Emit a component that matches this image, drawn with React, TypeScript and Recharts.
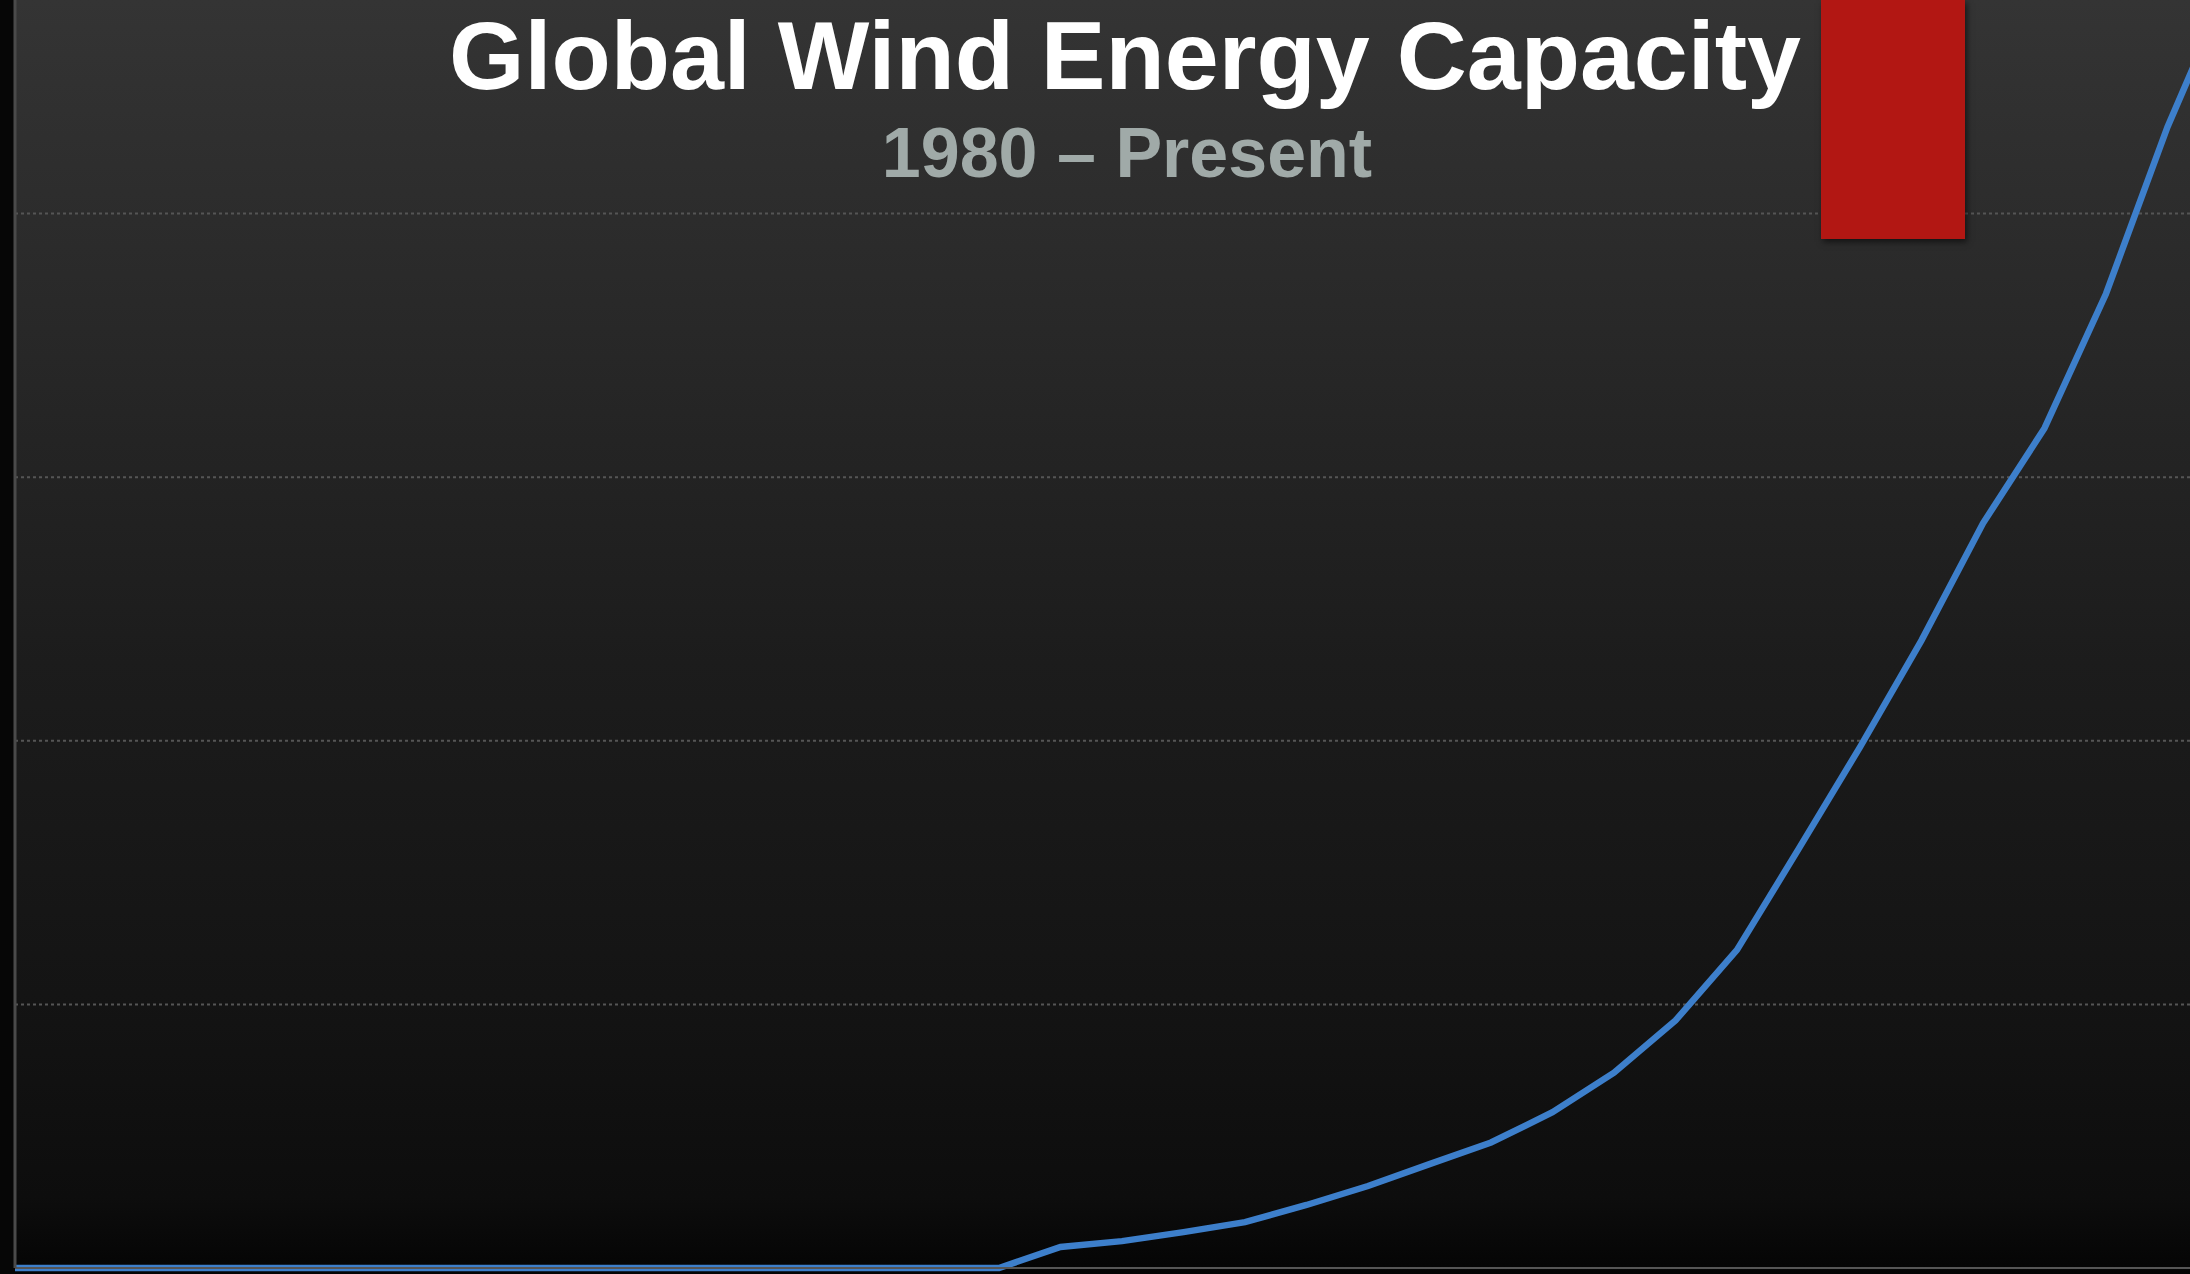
import { LineChart, Line, XAxis, YAxis, ReferenceLine } from 'recharts'

const years = [
  1980, 1981, 1982, 1983, 1984, 1985, 1986, 1987, 1988, 1989,
  1990, 1991, 1992, 1993, 1994, 1995, 1996, 1997, 1998, 1999,
  2000, 2001, 2002, 2003, 2004, 2005, 2006, 2007, 2008, 2009,
  2010, 2011, 2012, 2013, 2014, 2015, 2016,
]

// cumulative installed capacity, GW
const capacityGW = [
  0, 0, 0, 0, 0, 0, 0, 0, 0, 0,
  0, 0, 0, 0, 0, 0, 0, 8, 10.2, 13.6,
  17.4, 23.9, 31.1, 39.4, 47.6, 59.1, 74.1, 93.9, 120.7, 158.9,
  197.6, 238.1, 282.5, 318.6, 369.6, 432.9, 487,
]

const gridTicks = [100, 200, 300, 400]

const title = 'Global Wind Energy Capacity'
const subtitle = '1980 – Present'

const data = years.map((year, i) => ({ year, gw: capacityGW[i] }))

const font = '"Liberation Sans", Arial, Helvetica, sans-serif'

export default function App() {
  return (
    <div
      style={{
        position: 'fixed',
        left: 0,
        top: 0,
        width: 2190,
        height: 1274,
        overflow: 'hidden',
        background: '#060606',
      }}
    >
      <div
        style={{
          position: 'absolute',
          left: 15,
          top: 0,
          right: 0,
          bottom: 0,
          background:
            'linear-gradient(to bottom, #343434 0%, #272727 28%, #1c1c1c 52%, #141414 78%, #0d0d0d 94%, #040404 100%)',
        }}
      />

      <div style={{ position: 'absolute', left: 0, top: -50 }}>
        <LineChart
          width={2229}
          height={1324}
          data={data}
          margin={{ top: 0, right: 0, left: 0, bottom: 0 }}
        >
          <XAxis
            dataKey="year"
            type="number"
            domain={[1980, 2016]}
            height={6}
            tick={false}
            tickLine={false}
            axisLine={{ stroke: '#555', strokeWidth: 2 }}
          />
          <YAxis
            type="number"
            domain={[0, 500]}
            width={15}
            tick={false}
            tickLine={false}
            axisLine={{ stroke: '#4a4a4a', strokeWidth: 3 }}
          />
          {gridTicks.map((v) => (
            <ReferenceLine
              key={v}
              y={v}
              stroke="#555555"
              strokeWidth={2}
              strokeDasharray="3 3"
            />
          ))}
          <Line
            type="linear"
            dataKey="gw"
            stroke="#3d7fcb"
            strokeWidth={6.5}
            dot={false}
            activeDot={false}
            isAnimationActive={false}
          />
        </LineChart>
      </div>

      <div
        style={{
          position: 'absolute',
          left: 1821,
          top: 0,
          width: 144,
          height: 239,
          background: '#b21713',
          boxShadow: '2px 3px 6px rgba(0,0,0,0.55)',
        }}
      />

      <svg
        width={2190}
        height={260}
        style={{ position: 'absolute', left: 0, top: 0, overflow: 'visible' }}
      >
        <text
          x={1125}
          y={89}
          textAnchor="middle"
          fontFamily={font}
          fontWeight="bold"
          fontSize={97}
          fill="#ffffff"
        >
          {title}
        </text>
        <text
          x={1127}
          y={177}
          textAnchor="middle"
          fontFamily={font}
          fontWeight="bold"
          fontSize={70}
          fill="#a0aaa8"
        >
          {subtitle}
        </text>
      </svg>
    </div>
  )
}
